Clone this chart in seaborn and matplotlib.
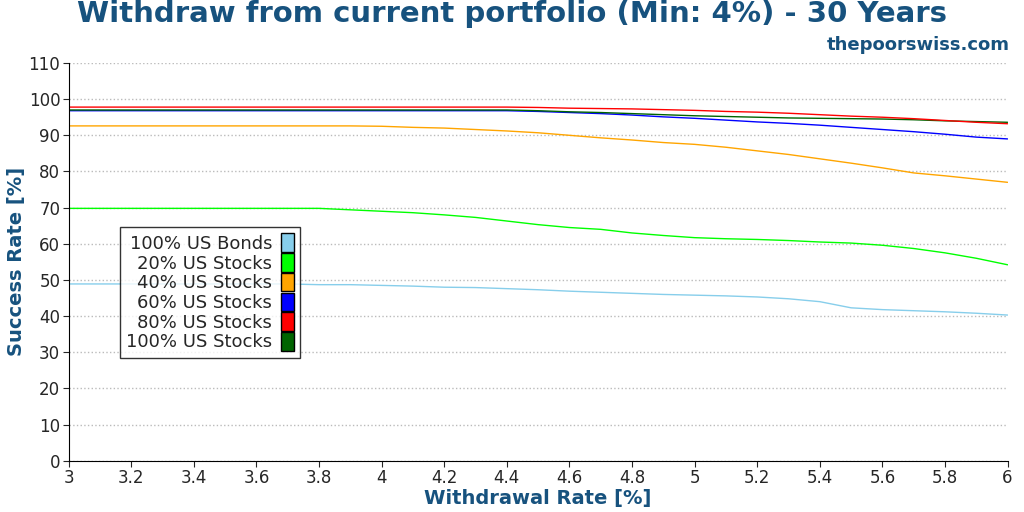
import matplotlib
matplotlib.use("Agg")
import matplotlib.pyplot as plt
import matplotlib.patches as mpatches
import numpy as np
import pandas as pd
import seaborn as sns

rates = [round(3.0 + 0.1 * i, 1) for i in range(31)]

bonds100 = [48.9] * 8 + [48.7, 48.7, 48.5, 48.3, 48.0, 47.9, 47.6, 47.3, 46.9, 46.6, 46.3,
                         46.0, 45.8, 45.6, 45.3, 44.8, 44.0, 42.3, 41.8, 41.5, 41.2, 40.8, 40.3]
stocks20 = [69.8] * 9 + [69.4, 69.0, 68.6, 68.0, 67.3, 66.3, 65.3, 64.5, 64.0, 63.0, 62.3,
                         61.7, 61.4, 61.2, 60.9, 60.5, 60.2, 59.6, 58.7, 57.5, 56.0, 54.2]
stocks40 = [92.6] * 10 + [92.5, 92.2, 92.0, 91.6, 91.2, 90.7, 90.0, 89.3, 88.7, 88.0, 87.5,
                          86.7, 85.7, 84.7, 83.5, 82.3, 81.0, 79.6, 78.8, 77.9, 77.0]
stocks60 = [96.8] * 15 + [96.6, 96.3, 96.0, 95.6, 95.1, 94.7, 94.2, 93.7, 93.3, 92.8,
                          92.2, 91.6, 91.0, 90.3, 89.5, 89.0]
stocks80 = [97.8] * 15 + [97.7, 97.5, 97.4, 97.3, 97.1, 96.9, 96.6, 96.4, 96.1, 95.7,
                          95.3, 95.0, 94.6, 94.1, 93.6, 93.2]
stocks100 = [97.0] * 15 + [96.8, 96.5, 96.3, 96.0, 95.7, 95.4, 95.2, 95.0, 94.8, 94.7,
                           94.6, 94.5, 94.3, 94.0, 93.8, 93.6]

labels = ["100% US Bonds", "20% US Stocks", "40% US Stocks",
          "60% US Stocks", "80% US Stocks", "100% US Stocks"]
colors = ["#87ceeb", "#00ff00", "#ffa500", "#0000ff", "#ff0000", "#006400"]
series = [bonds100, stocks20, stocks40, stocks60, stocks80, stocks100]

sns.set_style("white")
title_c = "#17527e"

fig, ax = plt.subplots(figsize=(10.24, 5.12), dpi=100)
fig.subplots_adjust(left=0.067, right=0.984, top=0.877, bottom=0.1)

order = [0, 1, 2, 3, 5, 4]
for i in order:
    df = pd.DataFrame({"x": rates, "y": series[i]})
    sns.lineplot(data=df, x="x", y="y", color=colors[i], lw=1, ax=ax)

ax.set_xlim(3, 6)
ax.set_ylim(0, 110)
ax.set_xticks(np.arange(3, 6.01, 0.2))
ax.set_xticklabels(["3", "3.2", "3.4", "3.6", "3.8", "4", "4.2", "4.4", "4.6",
                    "4.8", "5", "5.2", "5.4", "5.6", "5.8", "6"])
ax.set_yticks(range(0, 111, 10))
ax.tick_params(labelsize=12, direction="out", length=4, pad=2, left=True, bottom=True)
ax.yaxis.grid(True, ls=":", color="#bbbbbb", lw=1)
for s in ["top", "right"]:
    ax.spines[s].set_visible(False)
for s in ["left", "bottom"]:
    ax.spines[s].set_color("black")

ax.set_xlabel("Withdrawal Rate [%]", fontsize=14, fontweight="bold", color=title_c,
              labelpad=1)
ax.set_ylabel("Success Rate [%]", fontsize=14, fontweight="bold", color=title_c,
              labelpad=2)
fig.suptitle("Withdraw from current portfolio (Min: 4%) - 30 Years", fontsize=21,
             fontweight="bold", color=title_c, y=1.0)
fig.text(0.986, 0.902, "thepoorswiss.com", ha="right", fontsize=13,
         fontweight="bold", color=title_c)

handles = [mpatches.Patch(facecolor=c, edgecolor="black", label=l)
           for c, l in zip(colors, labels)]
leg = ax.legend(handles=handles, loc="upper left", bbox_to_anchor=(0.045, 0.61),
                markerfirst=False, fontsize=13, frameon=True, fancybox=False,
                handlelength=0.7, handleheight=1.2, handletextpad=0.5,
                labelspacing=0.02, borderpad=0.35)
leg.get_frame().set_edgecolor("black")
leg.get_frame().set_linewidth(1)
for t in leg.get_texts():
    t.set_ha("right")

fig.savefig("out.png")
plt.close(fig)
